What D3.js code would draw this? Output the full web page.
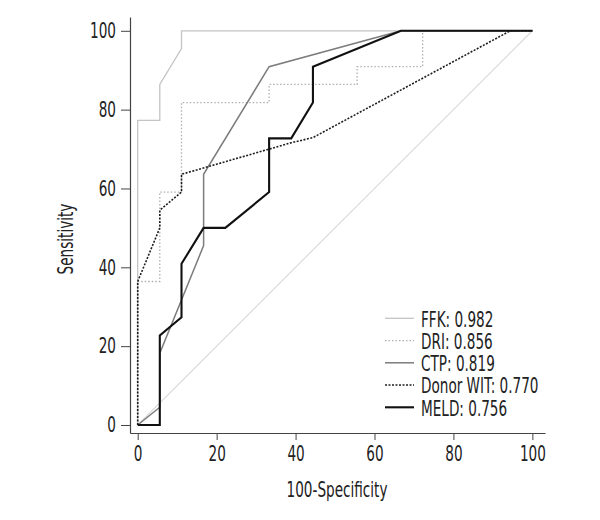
<!DOCTYPE html>
<html><head><meta charset="utf-8">
<script src="https://cdn.jsdelivr.net/npm/d3@7"></script>
<style>
body{margin:0;background:#fff;}
text{font-family:"DejaVu Sans Condensed","Liberation Sans Narrow",sans-serif;fill:#222;}
</style></head>
<body><svg id="c" width="600" height="520"></svg>
<script>
// data (x = 100-Specificity, y = Sensitivity)
const ffkX = [0, 0, 5.6, 5.6, 11.1, 11.1, 100];
const ffkY = [0, 77.3, 77.3, 86.4, 95.5, 100, 100];
const driX = [0, 0, 5.6, 5.6, 11.1, 11.1, 33.3, 33.3, 55.6, 55.6, 72.2, 72.2, 100];
const driY = [0, 36.4, 36.4, 59.1, 59.1, 81.8, 81.8, 86.4, 86.4, 90.9, 90.9, 100, 100];
const ctpX = [0, 5.6, 5.6, 16.7, 16.7, 33.3, 66.7, 100];
const ctpY = [0, 4.5, 18.2, 45.5, 63.6, 90.9, 100, 100];
const witX = [0, 0, 5.6, 5.6, 11.1, 11.1, 38.9, 44.4, 94.4, 100];
const witY = [0, 36.4, 50.0, 54.5, 59.1, 63.6, 71.6, 72.9, 100, 100];
const meldX = [0, 5.6, 5.6, 11.1, 11.1, 16.7, 22.2, 33.3, 33.3, 38.9, 44.4, 44.4, 66.7, 100];
const meldY = [0, 0, 22.7, 27.3, 40.9, 50.0, 50.0, 59.1, 72.7, 72.7, 81.8, 90.9, 100, 100];
const refX = [0, 100];
const refY = [0, 100];
const seriesNames = ["FFK: 0.982", "DRI: 0.856", "CTP: 0.819", "Donor WIT: 0.770", "MELD: 0.756"];
const xTicks = [0, 20, 40, 60, 80, 100];
const yTicks = [0, 20, 40, 60, 80, 100];

const SX = 0.72; // horizontal condensing to mimic a condensed font
const FS = 21;

const svg = d3.select("#c");
const x = d3.scaleLinear().domain([-1.95, 103.2]).range([130, 545]);
const y = d3.scaleLinear().domain([-2.03, 103.5]).range([433, 17]);

const styles = [
  {xs: ffkX, ys: ffkY, color: "#c4c4c4", w: 1.3, dash: null},
  {xs: driX, ys: driY, color: "#b0b0b0", w: 1.3, dash: "1.5,2"},
  {xs: ctpX, ys: ctpY, color: "#7c7c7c", w: 1.5, dash: null},
  {xs: witX, ys: witY, color: "#1e1e1e", w: 1.6, dash: "2,1.5"},
  {xs: meldX, ys: meldY, color: "#111", w: 2.1, dash: null}
];

const line = d3.line().x(d => x(d[0])).y(d => y(d[1]));

// reference diagonal
svg.append("path").attr("d", line(refX.map((v, i) => [v, refY[i]])))
  .attr("fill", "none").attr("stroke", "#dcdcdc").attr("stroke-width", 1.2);

styles.forEach(s => {
  svg.append("path").attr("d", line(s.xs.map((v, i) => [v, s.ys[i]])))
    .attr("fill", "none").attr("stroke", s.color).attr("stroke-width", s.w)
    .attr("stroke-dasharray", s.dash).attr("stroke-linejoin", "miter");
});

// axes
const xAxis = svg.append("g").attr("transform", "translate(0,433)")
  .call(d3.axisBottom(x).tickValues(xTicks).tickSize(7).tickPadding(6).tickSizeOuter(0));
const yAxis = svg.append("g").attr("transform", "translate(130,0)")
  .call(d3.axisLeft(y).tickValues(yTicks).tickSize(9).tickPadding(4).tickSizeOuter(0));
[xAxis, yAxis].forEach(a => {
  a.attr("font-family", null).attr("font-size", null);
  a.select(".domain").attr("stroke", "#444").attr("stroke-width", 1.2);
  a.selectAll(".tick line").attr("stroke", "#444").attr("stroke-width", 1);
  a.selectAll(".tick text").attr("font-size", FS).attr("fill", "#222")
    .attr("transform", `scale(${SX},1)`);
});
yAxis.selectAll(".tick text").attr("x", -14 / SX);

// axis titles
svg.append("text").attr("transform", `translate(337,497) scale(${SX},1)`).attr("text-anchor", "middle")
  .attr("font-size", FS).text("100-Specificity");
svg.append("text").attr("transform", `translate(73,239) rotate(-90) scale(${SX},1)`).attr("text-anchor", "middle")
  .attr("font-size", FS).text("Sensitivity");

// legend
const lg = svg.append("g");
styles.forEach((s, i) => {
  const yy = 318.3 + i * 22.25;
  lg.append("line").attr("x1", 385).attr("x2", 414).attr("y1", yy).attr("y2", yy)
    .attr("stroke", s.color).attr("stroke-width", s.w).attr("stroke-dasharray", s.dash);
  lg.append("text").attr("transform", `translate(421,${yy + 8.4}) scale(${SX},1)`)
    .attr("font-size", FS).text(seriesNames[i]);
});
</script></body></html>
